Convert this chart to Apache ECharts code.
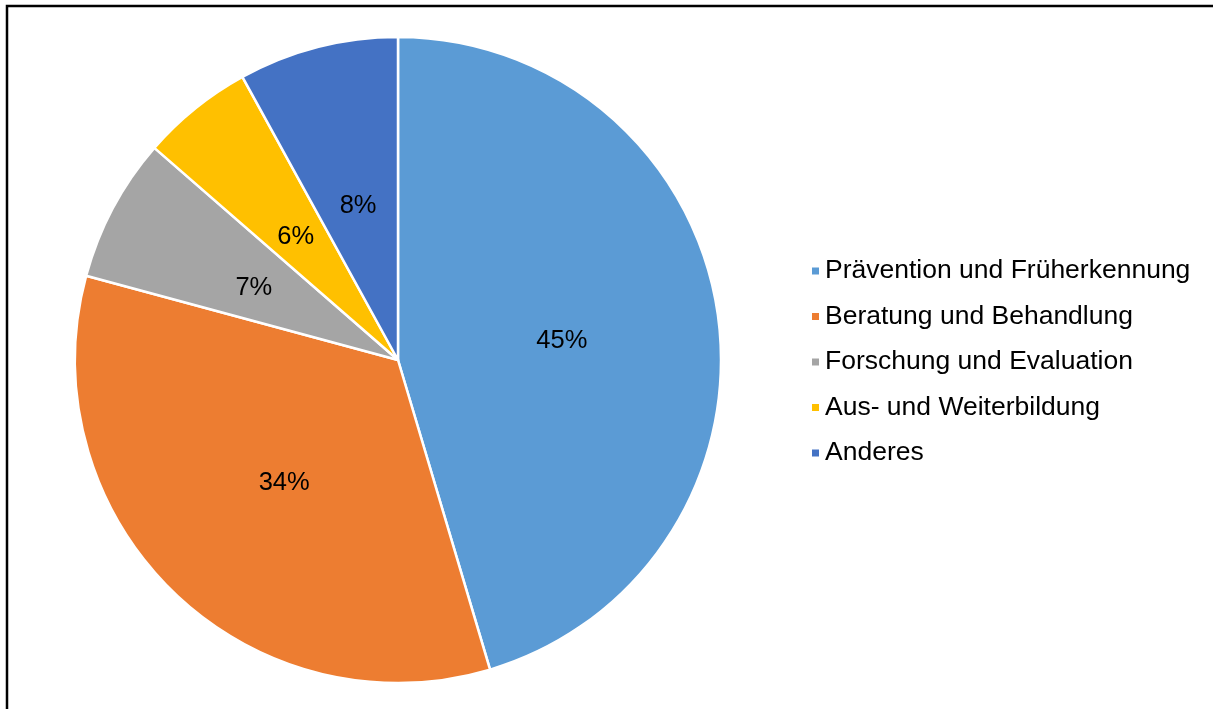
<!DOCTYPE html>
<html>
<head>
<meta charset="utf-8">
<script src="https://cdn.jsdelivr.net/npm/echarts@6/dist/echarts.min.js"></script>
<style>
html,body{margin:0;padding:0;background:#fff;}
#chart{width:1213px;height:709px;}
</style>
</head>
<body>
<div id="chart"></div>
<script>
const categories = ['Prävention und Früherkennung', 'Beratung und Behandlung', 'Forschung und Evaluation', 'Aus- und Weiterbildung', 'Anderes'];
const values = [45.4, 33.8, 7.2, 5.6, 8.0];
const colors = ['#5B9BD5', '#ED7D31', '#A5A5A5', '#FFC000', '#4472C4'];

const chart = echarts.init(document.getElementById('chart'), null, {renderer: 'canvas'});
const font = '"Liberation Sans", Arial, sans-serif';
chart.setOption({
  animation: false,
  color: colors,
  graphic: [{
    type: 'polyline',
    shape: {points: [[7, 709], [7, 6], [1213, 6]]},
    style: {stroke: '#000', lineWidth: 2.5, fill: null},
    silent: true
  }],
  legend: {
    orient: 'vertical',
    left: 805,
    top: 251,
    itemWidth: 9,
    itemHeight: 9,
    itemGap: 15.5,
    icon: 'rect',
    selectedMode: false,
    data: categories,
    textStyle: {fontFamily: font, fontSize: 26.5, color: '#000', lineHeight: 30}
  },
  series: [{
    type: 'pie',
    center: [398, 360],
    radius: 323,
    startAngle: 90,
    clockwise: true,
    avoidLabelOverlap: false,
    emphasis: {disabled: true},
    itemStyle: {borderColor: '#fff', borderWidth: 2.5},
    label: {
      position: 'inside',
      formatter: p => Math.round(p.value) + '%',
      fontFamily: font,
      fontSize: 25.5,
      color: '#000',
      offset: [1, 5]
    },
    labelLine: {show: false},
    data: categories.map((c, i) => ({name: c, value: values[i]}))
  }]
});
</script>
</body>
</html>
